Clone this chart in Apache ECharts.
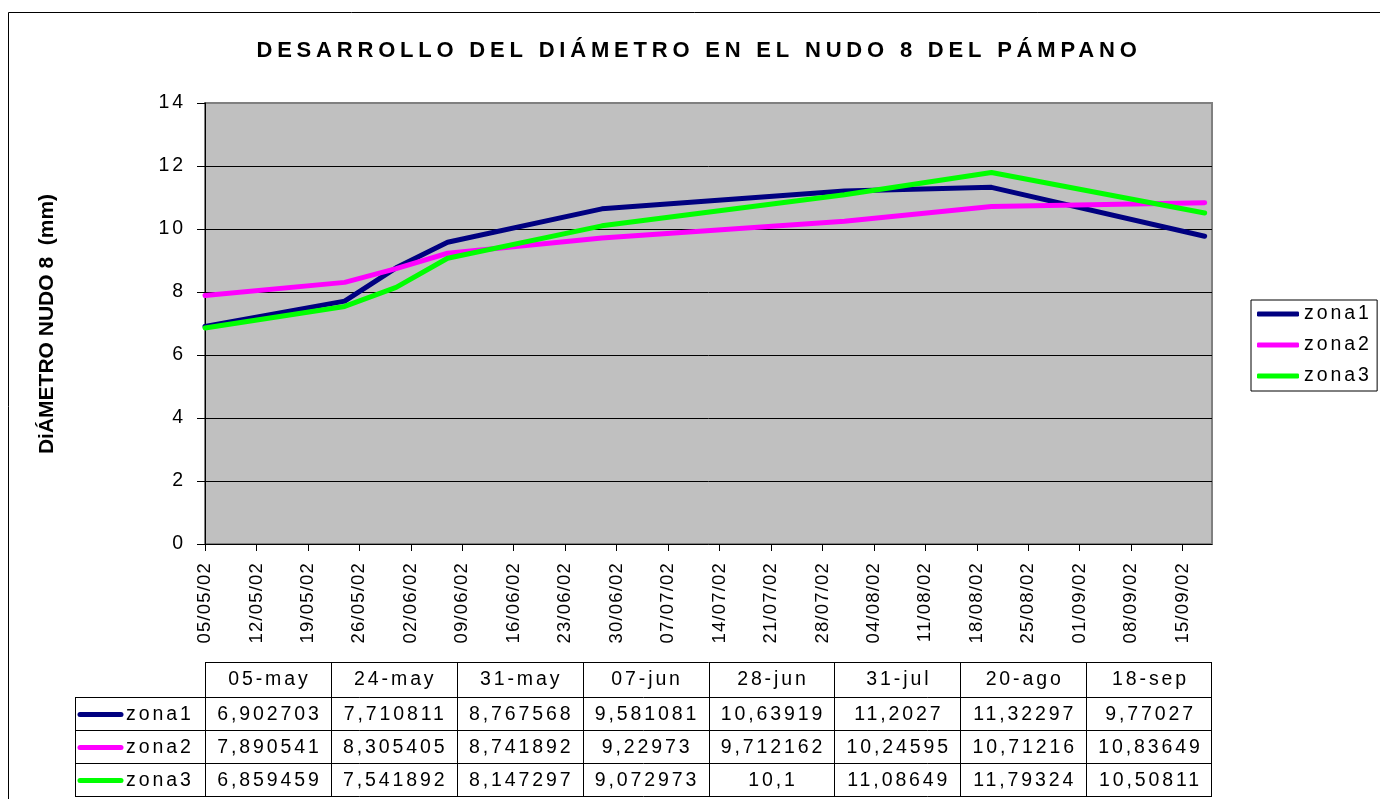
<!DOCTYPE html>
<html><head><meta charset="utf-8">
<script src="https://cdn.jsdelivr.net/npm/echarts@6/dist/echarts.min.js"></script>
<style>html,body{margin:0;padding:0;background:#fff}#c{width:1380px;height:799px}</style>
</head><body><div id="c"></div>
<script>
// ---------- data ----------
const titleText = 'DESARROLLO DEL DIÁMETRO EN EL NUDO 8 DEL PÁMPANO';
const yAxisTitle = 'DiÁMETRO NUDO 8  (mm)';
const seriesNames = ['zona1', 'zona2', 'zona3'];
const sampleDates = ['2002-05-05', '2002-05-24', '2002-05-31', '2002-06-07', '2002-06-28', '2002-07-31', '2002-08-20', '2002-09-18'];
const sampleLabels = ['05-may', '24-may', '31-may', '07-jun', '28-jun', '31-jul', '20-ago', '18-sep'];
const zona1 = [6.902703, 7.710811, 8.767568, 9.581081, 10.63919, 11.2027, 11.32297, 9.77027];
const zona2 = [7.890541, 8.305405, 8.741892, 9.22973, 9.712162, 10.24595, 10.71216, 10.83649];
const zona3 = [6.859459, 7.541892, 8.147297, 9.072973, 10.1, 11.08649, 11.79324, 10.50811];
const xTickLabels = ['05/05/02', '12/05/02', '19/05/02', '26/05/02', '02/06/02', '09/06/02', '16/06/02', '23/06/02',
  '30/06/02', '07/07/02', '14/07/02', '21/07/02', '28/07/02', '04/08/02', '11/08/02', '18/08/02',
  '25/08/02', '01/09/02', '08/09/02', '15/09/02'];
const yTickLabels = ['0', '2', '4', '6', '8', '10', '12', '14'];
const axisStart = '2002-05-05';
const axisEnd = '2002-09-19';
const colors = ['#000080', '#FF00FF', '#00FF00'];
const seriesValues = [zona1, zona2, zona3];

// ---------- letter spacing helper (canvas) ----------
(function () {
  const P = CanvasRenderingContext2D.prototype;
  const orig = P.fillText;
  P.fillText = function (t, x, y, m) {
    const mm = /(\d+(?:\.\d+)?)px/.exec(this.font || '');
    const sz = mm ? parseFloat(mm[1]) : 0;
    let ls = 0;
    if (sz === 22) ls = 4.8; else if (sz === 19.5) ls = 2.9; else if (sz === 18.5) ls = 1.2;
    const has = ('letterSpacing' in this);
    if (has) this.letterSpacing = ls + 'px';
    const r = (m === undefined) ? orig.call(this, t, x, y) : orig.call(this, t, x, y, m);
    if (has) this.letterSpacing = '0px';
    return r;
  };
})();

// ---------- helpers ----------
const BASE = Date.UTC(2002, 4, 5);
function dayOfIso(s) { const p = s.split('-').map(Number); return Math.round((Date.UTC(p[0], p[1] - 1, p[2]) - BASE) / 86400000); }
function dayOfDmy(s) { const p = s.split('/').map(Number); return Math.round((Date.UTC(2000 + p[2], p[1] - 1, p[0]) - BASE) / 86400000); }
const tickDays = xTickLabels.map(dayOfDmy);
const tickMap = {}; xTickLabels.forEach((l, i) => { tickMap[tickDays[i]] = l; });
const fmt = v => String(v).replace('.', ',');
const FONT = 'Liberation Sans, Arial, sans-serif';

// ---------- layout ----------
const gL = 205, gT = 103, gW = 1007, gH = 441;
const tblLeft = 75, colW = gW / 8;
const rowsY = [662, 697, 730, 763, 796];

const graphics = [];
graphics.push({ type: 'rect', shape: { x: 8.5, y: 12.5, width: 1400, height: 820 }, style: { fill: null, stroke: '#000', lineWidth: 1 }, silent: true, z: 0 });
graphics.push({ type: 'text', x: 699, y: 51, style: { text: titleText, fontSize: 22, fontWeight: 'bold', fontFamily: FONT, fill: '#000', align: 'center', verticalAlign: 'middle', textAlign: 'center', textVerticalAlign: 'middle' }, z: 10 });
graphics.push({ type: 'text', x: 47, y: 324, rotation: Math.PI / 2, style: { text: yAxisTitle, fontSize: 21, fontWeight: 'bold', fontFamily: FONT, fill: '#000', align: 'center', verticalAlign: 'middle', textAlign: 'center', textVerticalAlign: 'middle' }, z: 10 });

function hline(x1, x2, y) { graphics.push({ type: 'line', shape: { x1: x1, y1: y + 0.5, x2: x2, y2: y + 0.5 }, style: { stroke: '#000', lineWidth: 1 }, silent: true, z: 10 }); }
function vline(x, y1, y2) { graphics.push({ type: 'line', shape: { x1: x + 0.5, y1: y1, x2: x + 0.5, y2: y2 }, style: { stroke: '#000', lineWidth: 1 }, silent: true, z: 10 }); }
hline(gL, gL + gW, rowsY[0]);
for (let r = 1; r < rowsY.length; r++) hline(tblLeft, gL + gW, rowsY[r]);
vline(tblLeft, rowsY[1], rowsY[4] + 1);
for (let c = 0; c <= 8; c++) vline(Math.round(gL + c * colW) - (c === 8 ? 1 : 0), rowsY[0], rowsY[4] + 1);
function cellText(txt, x, y, align) {
  graphics.push({ type: 'text', x: x, y: y, style: { text: txt, fontSize: 19.5, fontFamily: FONT, fill: '#000', align: align, verticalAlign: 'middle', textAlign: align, textVerticalAlign: 'middle' }, z: 11 });
}
sampleLabels.forEach((l, i) => cellText(l, gL + (i + 0.5) * colW + 1.5, (rowsY[0] + rowsY[1]) / 2 + 0.5, 'center'));
seriesValues.forEach((arr, s) => {
  const cy = (rowsY[s + 1] + rowsY[s + 2]) / 2 + 1;
  graphics.push({ type: 'line', shape: { x1: 80, y1: cy, x2: 121, y2: cy }, style: { stroke: colors[s], lineWidth: 5, lineCap: 'round' }, silent: true, z: 11 });
  cellText(seriesNames[s], 126, cy, 'left');
  arr.forEach((v, i) => cellText(fmt(v), gL + (i + 0.5) * colW + 1.5, cy, 'center'));
});

const chart = echarts.init(document.getElementById('c'), null, { renderer: 'canvas' });
chart.setOption({
  animation: false,
  backgroundColor: '#fff',
  grid: { left: gL, top: gT, width: gW, height: gH, show: true, backgroundColor: '#C0C0C0', borderColor: '#808080', borderWidth: 2, outerBoundsMode: 'none' },
  legend: {
    orient: 'vertical', left: 1251, top: 300,
    data: seriesNames, icon: 'roundRect', itemWidth: 42, itemHeight: 5, itemGap: 11,
    padding: [4, 20, 5, 6], borderColor: '#000', borderWidth: 1, backgroundColor: '#fff',
    textStyle: { fontSize: 19.5, fontFamily: FONT, color: '#000' }, selectedMode: false
  },
  xAxis: {
    type: 'value', min: 0, max: dayOfIso(axisEnd) - dayOfIso(axisStart), interval: 7,
    axisLine: { show: true, onZero: false, lineStyle: { color: '#000', width: 1 } },
    axisTick: { show: true, length: 7, lineStyle: { color: '#000' }, customValues: tickDays },
    axisLabel: { rotate: 90, margin: 18, fontSize: 18.5, fontFamily: FONT, color: '#000', customValues: tickDays, formatter: v => tickMap[v] || '' },
    splitLine: { show: false }
  },
  yAxis: {
    type: 'value', min: 0, max: 14, interval: 2,
    axisLine: { show: true, lineStyle: { color: '#000', width: 1 } },
    axisTick: { show: true, length: 8, lineStyle: { color: '#000' } },
    axisLabel: { margin: 19, fontSize: 19.5, fontFamily: FONT, color: '#000', formatter: v => yTickLabels[yTickLabels.indexOf(String(v))] || String(v) },
    splitLine: { show: true, showMaxLine: false, showMinLine: false, lineStyle: { color: '#000', width: 1 } }
  },
  series: seriesNames.map((n, s) => ({
    name: n, type: 'line', symbol: 'none', showSymbol: false, clip: true,
    data: sampleDates.map((d, i) => [dayOfIso(d), seriesValues[s][i]]),
    lineStyle: { width: 5, color: colors[s], cap: 'round', join: 'round' },
    itemStyle: { color: colors[s] }
  })),
  graphic: graphics
});
</script>
</body></html>
